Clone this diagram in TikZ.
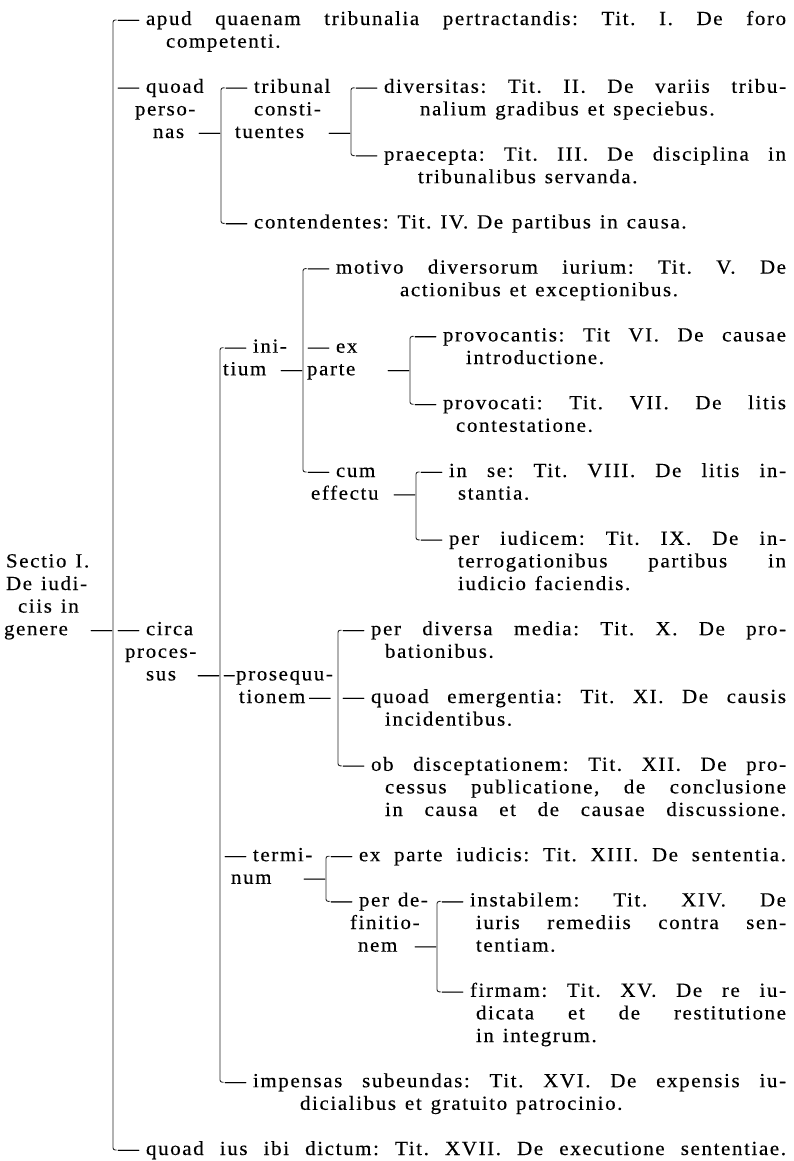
\documentclass[tikz,border=0pt]{standalone}
\usepackage{fontspec}
\setmainfont{Liberation Serif}[LetterSpace=8,FakeStretch=1.05,FakeBold=0.3,WordSpace=1.3]
\frenchspacing
\newcommand\J[2]{\makebox[#1pt][s]{#2}}
\newcommand\D{—\hspace{7pt}}
\newcommand\brk[2]{\draw[brk] ([xshift=-1.5pt]#1.west) -| ([xshift=-5pt]#2.west) -- ([xshift=-1.5pt]#2.west);}
\begin{document}
\begin{tikzpicture}[x=1pt,y=-22.6pt,
  txt/.style={inner sep=0pt,outer sep=0pt,text=black,font=\fontsize{20}{22}\selectfont\frenchspacing,text height=13pt,text depth=3pt,anchor=west},
  brk/.style={line width=0.9pt,draw=black!85,rounded corners=2.2pt}]
\useasboundingbox[fill=white] (0,-0.885) rectangle (794,50.487);
% root
\node[txt] (r1) at (6,24) {Sectio I.};
\node[txt] (r2) at (6,25) {De iudi-};
\node[txt] (r3) at (18,26) {ciis in};
\node[txt] (r4) at (4,27) {\J{108}{genere —}};
% level 1
\node[txt] (a1) at (118,0) {\J{668}{\D apud quaenam tribunalia pertractandis: Tit. I. De foro}};
\node[txt] (a2) at (166,1) {competenti.};
\node[txt] (q1) at (118,3) {\D quoad};
\node[txt] (q2) at (135,4) {perso-};
\node[txt] (q3) at (153,5) {\J{67}{nas —}};
\node[txt] (ci1) at (118,27) {\D circa};
\node[txt] (ci2) at (125,28) {proces-};
\node[txt] (ci3) at (146,29) {\J{73}{sus —}};
\node[txt] (qi) at (118,50) {\J{668}{\D quoad ius ibi dictum: Tit. XVII. De executione sententiae.}};
% quoad personas
\node[txt] (t1) at (226,3) {\D tribunal};
\node[txt] (t2) at (254,4) {consti-};
\node[txt] (t3) at (235,5) {\J{115}{tuentes —}};
\node[txt] (c1) at (226,9) {\D contendentes: Tit. IV. De partibus in causa.};
\node[txt] (d1) at (356,3) {\J{430}{\D diversitas: Tit. II. De variis tribu-}};
\node[txt] (d2) at (420,4) {nalium gradibus et speciebus.};
\node[txt] (p1) at (356,6) {\J{430}{\D praecepta: Tit. III. De disciplina in}};
\node[txt] (p2) at (418,7) {tribunalibus servanda.};
% circa processus
\node[txt] (in1) at (225,14.5) {\D ini-};
\node[txt] (in2) at (223,15.5) {\J{79}{tium —}};
\node[txt] (pr1) at (224,29) {–prosequu-};
\node[txt] (pr2) at (239,30) {tionem\hspace{4pt}—};
\node[txt] (te1) at (225,37) {\D termi-};
\node[txt] (te2) at (231,38) {\J{94}{num —}};
\node[txt] (im1) at (225,47) {\J{561}{\D impensas subeundas: Tit. XVI. De expensis iu-}};
\node[txt] (im2) at (300,48) {dicialibus et gratuito patrocinio.};
% initium
\node[txt] (mo1) at (308,11) {\J{478}{\D motivo diversorum iurium: Tit. V. De}};
\node[txt] (mo2) at (400,12) {actionibus et exceptionibus.};
\node[txt] (ex1) at (308,14.5) {\D ex};
\node[txt] (ex2) at (307,15.5) {\J{102}{parte —}};
\node[txt] (cu1) at (308,20) {\D cum};
\node[txt] (cu2) at (311,21) {\J{104}{effectu —}};
\node[txt] (pv1) at (415,14) {\J{371}{\D provocantis: Tit VI. De causae}};
\node[txt] (pv2) at (466,15) {introductione.};
\node[txt] (pc1) at (415,17) {\J{371}{\D provocati: Tit. VII. De litis}};
\node[txt] (pc2) at (456,18) {contestatione.};
\node[txt] (is1) at (421,20) {\J{365}{\D in se: Tit. VIII. De litis in-}};
\node[txt] (is2) at (458,21) {stantia.};
\node[txt] (pi1) at (421,23) {\J{365}{\D per iudicem: Tit. IX. De in-}};
\node[txt] (pi2) at (458,24) {\J{328}{terrogationibus partibus in}};
\node[txt] (pi3) at (458,25) {iudicio faciendis.};
% prosequutionem
\node[txt] (pd1) at (343,27) {\J{443}{\D per diversa media: Tit. X. De pro-}};
\node[txt] (pd2) at (385,28) {bationibus.};
\node[txt] (qe1) at (343,30) {\J{443}{\D quoad emergentia: Tit. XI. De causis}};
\node[txt] (qe2) at (385,31) {incidentibus.};
\node[txt] (ob1) at (343,33) {\J{443}{\D ob disceptationem: Tit. XII. De pro-}};
\node[txt] (ob2) at (385,34) {\J{401}{cessus publicatione, de conclusione}};
\node[txt] (ob3) at (385,35) {\J{401}{in causa et de causae discussione.}};
% terminum
\node[txt] (ep1) at (331,37) {\J{455}{\D ex parte iudicis: Tit. XIII. De sententia.}};
\node[txt] (de1) at (331,39) {\D per de-};
\node[txt] (de2) at (350,40) {finitio-};
\node[txt] (de3) at (358,41) {\J{78}{nem —}};
\node[txt] (ib1) at (442,39) {\J{344}{\D instabilem: Tit. XIV. De}};
\node[txt] (ib2) at (476,40) {\J{310}{iuris remediis contra sen-}};
\node[txt] (ib3) at (476,41) {tentiam.};
\node[txt] (fi1) at (442,43) {\J{344}{\D firmam: Tit. XV. De re iu-}};
\node[txt] (fi2) at (476,44) {\J{310}{dicata et de restitutione}};
\node[txt] (fi3) at (476,45) {in integrum.};
% brackets
\brk{a1}{qi}
\brk{t1}{c1}
\brk{d1}{p1}
\brk{in1}{im1}
\brk{mo1}{cu1}
\brk{pv1}{pc1}
\brk{is1}{pi1}
\brk{pd1}{ob1}
\brk{ep1}{de1}
\brk{ib1}{fi1}
\end{tikzpicture}
\end{document}
